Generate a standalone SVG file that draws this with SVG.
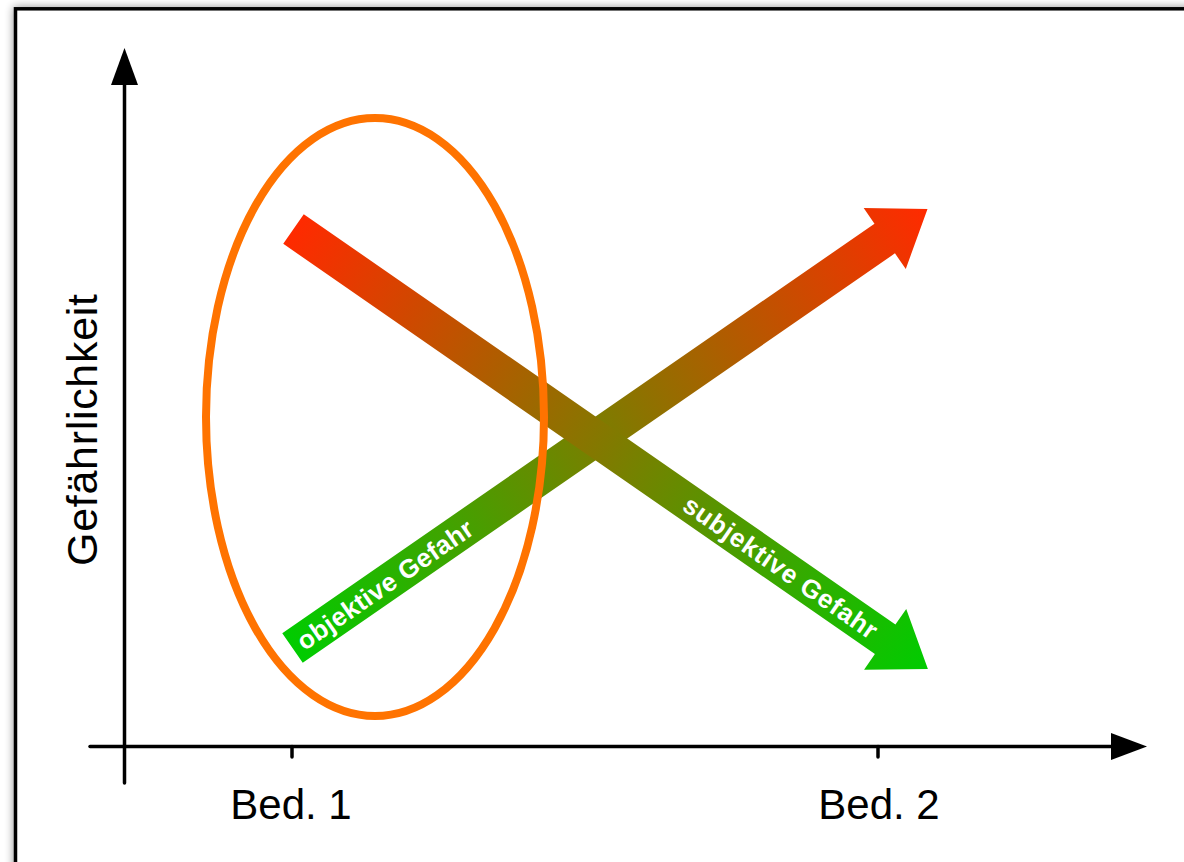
<svg xmlns="http://www.w3.org/2000/svg" width="1184" height="862" viewBox="0 0 1184 862">
<defs>
<filter id="shadow" x="-5%" y="-5%" width="110%" height="110%">
<feGaussianBlur in="SourceAlpha" stdDeviation="5"/>
<feComponentTransfer><feFuncA type="linear" slope="0.45"/></feComponentTransfer>
<feMerge><feMergeNode/><feMergeNode in="SourceGraphic"/></feMerge>
</filter>
<linearGradient id="gUp" x1="0" y1="0" x2="1" y2="0">
<stop offset="0" stop-color="#00CC00"/>
<stop offset="1" stop-color="#FF2A00"/>
</linearGradient>
<linearGradient id="gDown" x1="0" y1="0" x2="1" y2="0">
<stop offset="0" stop-color="#FF2A00"/>
<stop offset="1" stop-color="#00CC00"/>
</linearGradient>
<style>
.axis{stroke:#000;stroke-width:3.5;fill:none;stroke-linecap:round}
.head{fill:#000}
.lbl{font-family:"Liberation Sans",Arial,Helvetica,sans-serif;font-size:42px;fill:#000}
.atext{font-family:"Liberation Sans",Arial,Helvetica,sans-serif;font-size:26px;font-weight:bold;fill:#fff}
</style>
</defs>
<rect x="15.5" y="8.8" width="1200" height="900" fill="#fff" stroke="#000" stroke-width="3.5" filter="url(#shadow)"/>

<g id="connectors">
<g id="y-axis">
<line class="axis" x1="124.5" y1="783" x2="124.5" y2="80"/>
<polygon class="head" points="124.5,48 138,85 111,85"/>
</g>
<g id="x-axis">
<line class="axis" x1="90" y1="746.5" x2="1115" y2="746.5"/>
<polygon class="head" points="1147,746.5 1111,733 1111,760"/>
<line class="axis" x1="292" y1="746.5" x2="292" y2="757"/>
<line class="axis" x1="878" y1="746.5" x2="878" y2="757"/>
</g>
</g>

<g id="label-y">
<text class="lbl" transform="translate(97,430) rotate(-90)" text-anchor="middle" style="font-size:43px" textLength="272" lengthAdjust="spacing">Gefährlichkeit</text>
</g>
<g id="label-bed1"><text class="lbl" x="291" y="819" text-anchor="middle">Bed. 1</text></g>
<g id="label-bed2"><text class="lbl" x="879" y="819" text-anchor="middle">Bed. 2</text></g>

<g id="arrow-objektiv" transform="translate(292.5,648) rotate(-34.66)">
<path d="M0,-18 L720,-18 L720,-37 L772,0 L720,37 L720,18 L0,18 Z" fill="url(#gUp)"/>
<text class="atext" x="8" y="9.5" textLength="208" lengthAdjust="spacing">objektive Gefahr</text>
</g>

<g id="arrow-subjektiv" transform="translate(293.5,229) rotate(34.74)">
<path d="M0,-18 L720,-18 L720,-37 L772,0 L720,37 L720,18 L0,18 Z" fill="url(#gDown)"/>
<text class="atext" x="478" y="9.5" textLength="230" lengthAdjust="spacing">subjektive Gefahr</text>
</g>

<g id="ellipse">
<ellipse cx="375" cy="417" rx="169" ry="299" fill="none" stroke="#FF7300" stroke-width="8"/>
</g>
</svg>
